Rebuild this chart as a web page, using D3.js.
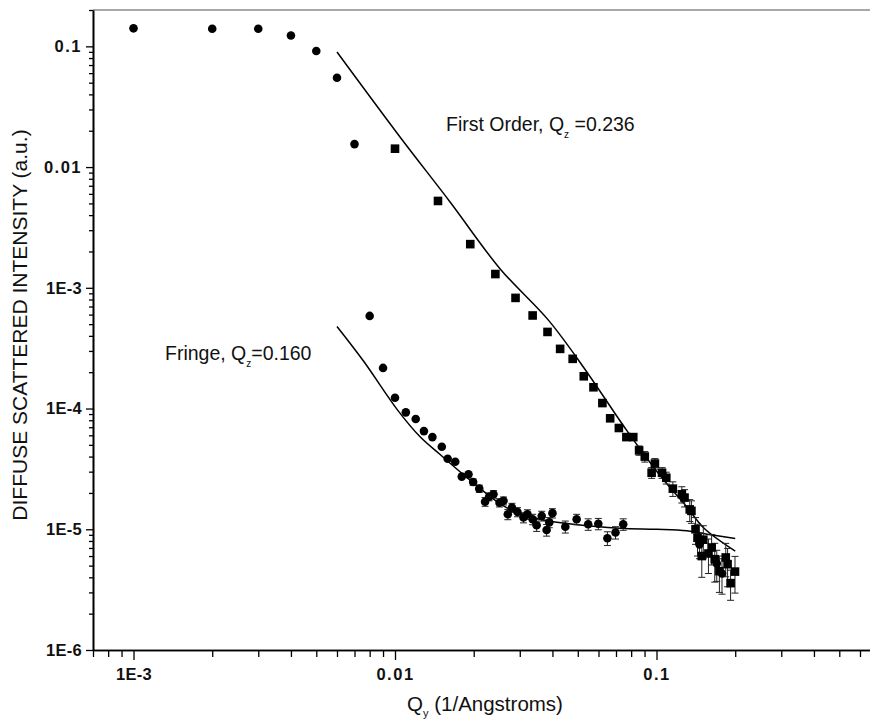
<!DOCTYPE html>
<html>
<head>
<meta charset="utf-8">
<script src="https://cdn.jsdelivr.net/npm/d3@7"></script>
<style>
  body { margin: 0; background: #fff; }
  text { font-family: "Liberation Sans", Arial, sans-serif; }
</style>
</head>
<body>
<svg id="chart" width="870" height="721"></svg>
<script>
// tick labels
var xMajor = [1e-3, 0.01, 0.1];
var xMajorLabels = ["1E-3", "0.01", "0.1"];
var yMajor = [1e-6, 1e-5, 1e-4, 1e-3, 0.01, 0.1];
var yMajorLabels = ["1E-6", "1E-5", "1E-4", "1E-3", "0.01", "0.1"];

// fringe data (circles), Qz = 0.160
var fringeQ = [0.001, 0.002, 0.003, 0.004, 0.005, 0.006, 0.007, 0.008, 0.009, 0.010,
  0.0110, 0.0120, 0.0129, 0.0139, 0.0151, 0.0159, 0.0170, 0.0180, 0.0191, 0.0199,
  0.0210, 0.0221, 0.0229, 0.0238, 0.0251, 0.0260, 0.0270, 0.0280, 0.0294, 0.0310,
  0.0321, 0.0336, 0.0348, 0.0364, 0.0380, 0.0389, 0.0400, 0.0448, 0.0495, 0.0548,
  0.0599, 0.0649, 0.0697, 0.0746, 0.146, 0.170, 0.178];
var fringeI = [0.141, 0.140, 0.140, 0.123, 0.0914, 0.055, 0.0155, 5.85e-4, 2.17e-4, 1.23e-4,
  9.3e-5, 8.2e-5, 6.5e-5, 5.8e-5, 4.82e-5, 3.84e-5, 3.62e-5, 2.73e-5, 2.85e-5, 2.46e-5,
  2.17e-5, 1.69e-5, 1.86e-5, 1.95e-5, 1.66e-5, 1.72e-5, 1.33e-5, 1.51e-5, 1.39e-5, 1.25e-5,
  1.33e-5, 1.21e-5, 1.08e-5, 1.29e-5, 9.87e-6, 1.14e-5, 1.36e-5, 1.05e-5, 1.21e-5, 1.10e-5,
  1.11e-5, 8.43e-6, 9.4e-6, 1.10e-5, 7.5e-6, 5.2e-6, 4.3e-6];
var fringeErr = [0, 0, 0, 0, 0, 0, 0, 0, 0, 0,
  0, 0, 0, 0, 0, 0, 0, 0, 0, 1.5e-6,
  1.5e-6, 1.4e-6, 1.4e-6, 1.4e-6, 1.3e-6, 1.3e-6, 1.3e-6, 1.3e-6, 1.2e-6, 1.2e-6,
  1.2e-6, 1.2e-6, 1.2e-6, 1.2e-6, 1.1e-6, 1.1e-6, 1.2e-6, 1.2e-6, 1.2e-6, 1.2e-6,
  1.2e-6, 1.1e-6, 1.1e-6, 1.2e-6, 1.8e-6, 1.5e-6, 1.4e-6];

// first order data (squares), Qz = 0.236
var firstQ = [0.0100, 0.0146, 0.0194, 0.0242, 0.0289, 0.0336, 0.0383, 0.0428, 0.0478, 0.0527,
  0.0574, 0.0621, 0.0665, 0.0718, 0.0767, 0.0815, 0.0858, 0.0902, 0.0958, 0.0986,
  0.1050, 0.1090, 0.1155, 0.1250, 0.1280, 0.1340, 0.1360, 0.1410, 0.1435, 0.1510,
  0.1490, 0.1580, 0.1625, 0.1670, 0.1740, 0.1840, 0.1870, 0.1920, 0.1996];
var firstI = [1.42e-2, 5.24e-3, 2.30e-3, 1.30e-3, 8.25e-4, 5.9e-4, 4.31e-4, 3.12e-4, 2.58e-4, 1.85e-4,
  1.50e-4, 1.11e-4, 8.3e-5, 6.9e-5, 5.8e-5, 5.8e-5, 4.5e-5, 4.0e-5, 2.94e-5, 3.5e-5,
  2.94e-5, 2.67e-5, 2.17e-5, 1.95e-5, 1.83e-5, 1.46e-5, 1.42e-5, 1.0e-5, 8.5e-6, 8.2e-6,
  6.0e-6, 6.3e-6, 7.06e-6, 5.65e-6, 4.5e-6, 5.84e-6, 5.14e-6, 3.58e-6, 4.46e-6];
var firstErr = [0, 0, 0, 0, 0, 0, 0, 0, 0, 0,
  0, 0, 0, 0, 0, 0, 4e-6, 4e-6, 3e-6, 3.5e-6,
  3e-6, 3e-6, 3e-6, 3e-6, 3e-6, 3e-6, 3e-6, 2.5e-6, 2.5e-6, 2.5e-6,
  2e-6, 2e-6, 2e-6, 2e-6, 1.5e-6, 1.8e-6, 1.8e-6, 1.0e-6, 1.5e-6];

// model curves
var firstFitQ = [0.0060, 0.01045, 0.01624, 0.0252, 0.0386, 0.0525, 0.0768, 0.1017, 0.1306, 0.152, 0.2];
var firstFitI = [0.0897, 0.01775, 5.14e-3, 1.44e-3, 5.4e-4, 2.21e-4, 6.62e-5, 2.9e-5, 1.53e-5, 1.02e-5, 6.6e-6];
var fringeFitQ = [0.0060, 0.0076, 0.0102, 0.0125, 0.0148, 0.0199, 0.0267, 0.0358, 0.0481, 0.0727, 0.1, 0.1306, 0.156, 0.2];
var fringeFitI = [4.78e-4, 2.45e-4, 9.8e-5, 5.8e-5, 4.2e-5, 2.43e-5, 1.51e-5, 1.21e-5, 1.10e-5, 1.02e-5, 1.0e-5, 9.7e-6, 9.1e-6, 8.4e-6];

var svg = d3.select("#chart");

// scales
var x = d3.scaleLog().domain([7e-4, 1]).range([93, 918]);
var y = d3.scaleLog().domain([1e-6, 0.2]).range([650, 10]);

var xMinor = x.ticks().filter(d => xMajor.indexOf(d) < 0 && d < 0.95);
var yMinor = y.ticks().filter(d => yMajor.indexOf(d) < 0);

// top frame line (gray)
svg.append("line")
  .attr("x1", x.range()[0]).attr("x2", x.range()[1])
  .attr("y1", y(0.2)).attr("y2", y(0.2))
  .attr("stroke", "#a8a8a8").attr("stroke-width", 2);

// x axis
var xAxisG = svg.append("g").attr("transform", `translate(0,${y.range()[0]})`);
xAxisG.append("g")
  .call(d3.axisBottom(x).tickValues(xMinor).tickSize(7).tickSizeOuter(0).tickFormat(""));
xAxisG.append("g")
  .call(d3.axisBottom(x).tickValues(xMajor).tickSize(10).tickSizeOuter(0).tickPadding(8)
    .tickFormat((d, i) => xMajorLabels[i]));

// y axis
var yAxisG = svg.append("g").attr("transform", `translate(${x.range()[0]},0)`);
yAxisG.append("g")
  .call(d3.axisLeft(y).tickValues(yMinor).tickSize(4).tickSizeOuter(0).tickFormat(""));
yAxisG.append("g")
  .call(d3.axisLeft(y).tickValues(yMajor).tickSize(7).tickSizeOuter(0).tickPadding(4)
    .tickFormat((d, i) => yMajorLabels[i]));

svg.selectAll(".domain").attr("stroke", "#000").attr("stroke-width", 1.6);
svg.selectAll(".tick line").attr("stroke", "#000").attr("stroke-width", 1.3);
svg.selectAll(".tick text")
  .attr("font-size", 16.5).attr("font-weight", "bold")
  .attr("font-family", "'Liberation Sans', Arial, sans-serif").attr("fill", "#111")
  .attr("letter-spacing", function() { return d3.select(this).text().indexOf(".") >= 0 ? 1.5 : 0.3; });

// axis titles
svg.append("text")
  .attr("transform", "translate(27,325) rotate(-90)")
  .attr("text-anchor", "middle")
  .attr("font-size", 21).attr("fill", "#111")
  .text("DIFFUSE SCATTERED INTENSITY (a.u.)");

var xTitle = svg.append("text")
  .attr("x", 485).attr("y", 711)
  .attr("text-anchor", "middle")
  .attr("font-size", 20.5).attr("fill", "#111");
xTitle.append("tspan").text("Q");
xTitle.append("tspan").attr("font-size", 11).attr("dy", 6).text("y");
xTitle.append("tspan").attr("dy", -6).text(" (1/Angstroms)");

// model curves
var line = d3.line()
  .curve(d3.curveCatmullRom)
  .x(d => x(d[0]))
  .y(d => y(d[1]));

svg.append("path")
  .datum(firstFitQ.map((q, i) => [q, firstFitI[i]]))
  .attr("fill", "none").attr("stroke", "#000").attr("stroke-width", 1.5)
  .attr("d", line);
svg.append("path")
  .datum(fringeFitQ.map((q, i) => [q, fringeFitI[i]]))
  .attr("fill", "none").attr("stroke", "#000").attr("stroke-width", 1.5)
  .attr("d", line);

// error bars
function errorBars(qs, is, es) {
  var d = qs.map((q, i) => ({q: q, v: is[i], e: es[i]})).filter(p => p.e > 0);
  var g = svg.append("g").attr("stroke", "#222").attr("stroke-width", 1);
  g.selectAll(".eb").data(d).join("line")
    .attr("x1", p => x(p.q)).attr("x2", p => x(p.q))
    .attr("y1", p => y(p.v + p.e)).attr("y2", p => y(Math.max(p.v - p.e, 1e-7)));
  g.selectAll(".capLo").data(d).join("line")
    .attr("x1", p => x(p.q) - 3.5).attr("x2", p => x(p.q) + 3.5)
    .attr("y1", p => y(p.v - p.e)).attr("y2", p => y(p.v - p.e));
  g.selectAll(".capHi").data(d).join("line")
    .attr("x1", p => x(p.q) - 3.5).attr("x2", p => x(p.q) + 3.5)
    .attr("y1", p => y(p.v + p.e)).attr("y2", p => y(p.v + p.e));
}
errorBars(fringeQ, fringeI, fringeErr);
errorBars(firstQ, firstI, firstErr);

// squares: first order
svg.append("g")
  .selectAll("rect")
  .data(firstQ.map((q, i) => [q, firstI[i]]))
  .join("rect")
  .attr("x", d => x(d[0]) - 4.3)
  .attr("y", d => y(d[1]) - 4.3)
  .attr("width", 8.6).attr("height", 8.6)
  .attr("fill", "#000");

// circles: fringe
svg.append("g")
  .selectAll("circle")
  .data(fringeQ.map((q, i) => [q, fringeI[i]]))
  .join("circle")
  .attr("cx", d => x(d[0]))
  .attr("cy", d => y(d[1]))
  .attr("r", 4.3)
  .attr("fill", "#000");

// annotations
var lab1 = svg.append("text")
  .attr("x", 446).attr("y", 131)
  .attr("font-size", 19.5).attr("fill", "#111");
lab1.append("tspan").text("First Order, Q");
lab1.append("tspan").attr("font-size", 10).attr("dy", 7).text("z");
lab1.append("tspan").attr("dy", -7).text(" =0.236");

var lab2 = svg.append("text")
  .attr("x", 165).attr("y", 360)
  .attr("font-size", 19.5).attr("fill", "#111");
lab2.append("tspan").text("Fringe, Q");
lab2.append("tspan").attr("font-size", 10).attr("dy", 7).text("z");
lab2.append("tspan").attr("dy", -7).text("=0.160");
</script>
</body>
</html>
